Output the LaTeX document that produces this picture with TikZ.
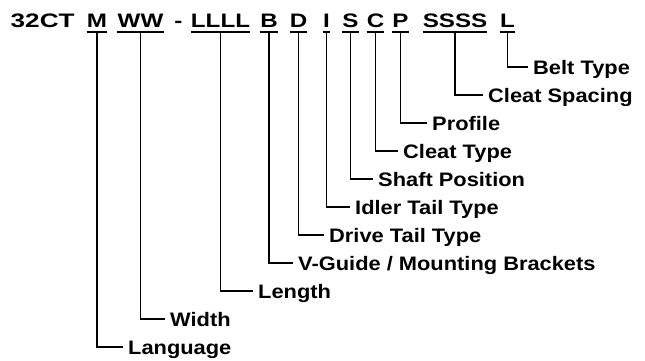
\documentclass[tikz,border=0pt]{standalone}
\usepackage{fontspec}
\usepackage{graphicx}
\setmainfont{Liberation Sans}
\newcommand{\wtop}[1]{\scalebox{1.24}[1]{#1}}
\newcommand{\whead}[1]{\scalebox{1.34}[1]{#1}}
\newcommand{\wlab}[1]{\scalebox{1.12}[1]{#1}}
\begin{document}
\begin{tikzpicture}[x=1bp,y=-1bp,
  code/.style={anchor=base,inner sep=0pt,font=\bfseries\fontsize{19.5bp}{20bp}\selectfont},
  lab/.style={anchor=west,inner xsep=6bp,inner ysep=0pt,text height=14bp,text depth=0pt,
    font=\bfseries\fontsize{19.5bp}{20bp}\selectfont},
  conn/.style={line width=1.3bp,line cap=rect},
  uline/.style={line width=1.3bp}]
\useasboundingbox (0,0) rectangle (645,360);
\fill[white] (0,0) rectangle (645,360);
% top line
\node[code,anchor=base west] (head) at (10.5,27) {\whead{32CT}};
\node[code] (cM) at (97,27) {\wtop{M}};
\node[code] (cW) at (140.5,27) {\wtop{WW}};
\node[code] (dash) at (178.5,27) {\wtop{-}};
\node[code] (cL) at (220.5,27) {\wtop{LLLL}};
\node[code] (cB) at (269,27) {\wtop{B}};
\node[code] (cD) at (298.5,27) {\wtop{D}};
\node[code] (cI) at (326.5,27) {\wtop{I}};
\node[code] (cS) at (350.5,27) {\wtop{S}};
\node[code] (cC) at (375.5,27) {\wtop{C}};
\node[code] (cP) at (400.5,27) {\wtop{P}};
\node[code] (cSS) at (455,27) {\wtop{SSSS}};
\node[code] (cBL) at (507.5,27) {\wtop{L}};
\foreach \n in {cM,cW,cL,cB,cD,cI,cS,cC,cP,cSS,cBL}
  \draw[uline] ([yshift=-5bp]\n.base west) -- ([yshift=-5bp]\n.base east);
% labels
\node[lab] (lBelt) at (527,67) {\wlab{Belt Type}};
\node[lab] (lSpac) at (482,95) {\wlab{Cleat Spacing}};
\node[lab] (lProf) at (426,123) {\wlab{Profile}};
\node[lab] (lCType) at (397,151) {\wlab{Cleat Type}};
\node[lab] (lShaft) at (372,179) {\wlab{Shaft Position}};
\node[lab] (lIdler) at (349,207) {\wlab{Idler Tail Type}};
\node[lab] (lDrive) at (323,235) {\wlab{Drive Tail Type}};
\node[lab] (lVG) at (292,263) {\wlab{V-Guide / Mounting Brackets}};
\node[lab] (lLen) at (252,291) {\wlab{Length}};
\node[lab] (lWid) at (164,319) {\wlab{Width}};
\node[lab] (lLang) at (122,347) {\wlab{Language}};
% connectors
\draw[conn] ([yshift=-5bp]cBL.base) |- (lBelt.west);
\draw[conn] ([yshift=-5bp]cSS.base) |- (lSpac.west);
\draw[conn] ([yshift=-5bp]cP.base) |- (lProf.west);
\draw[conn] ([yshift=-5bp]cC.base) |- (lCType.west);
\draw[conn] ([yshift=-5bp]cS.base) |- (lShaft.west);
\draw[conn] ([yshift=-5bp]cI.base) |- (lIdler.west);
\draw[conn] ([yshift=-5bp]cD.base) |- (lDrive.west);
\draw[conn] ([yshift=-5bp]cB.base) |- (lVG.west);
\draw[conn] ([yshift=-5bp]cL.base) |- (lLen.west);
\draw[conn] ([yshift=-5bp]cW.base) |- (lWid.west);
\draw[conn] ([yshift=-5bp]cM.base) |- (lLang.west);
\end{tikzpicture}
\end{document}
